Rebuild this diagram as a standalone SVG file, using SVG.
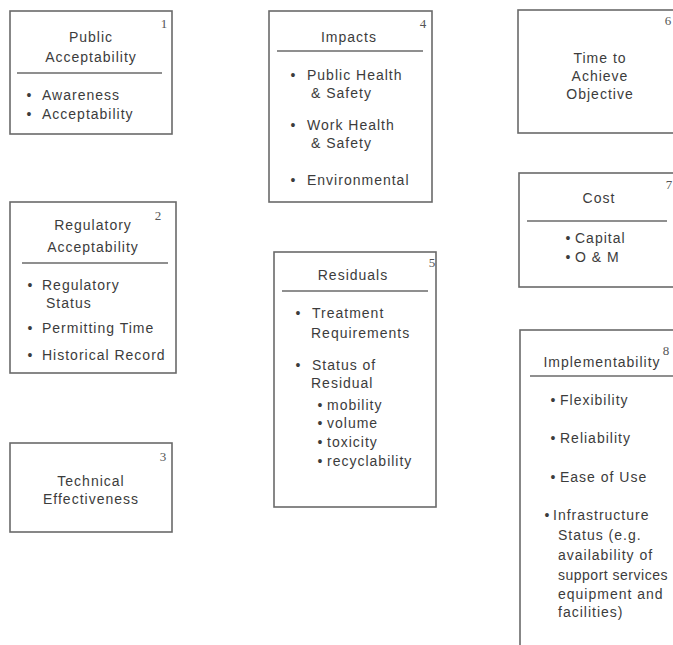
<svg xmlns="http://www.w3.org/2000/svg" width="673" height="645" viewBox="0 0 673 645">
<style>
text{font-family:"Liberation Sans",Arial,sans-serif;font-size:14px;fill:#3c3c3c;letter-spacing:1px}
.c{text-anchor:middle}
.b{text-anchor:middle;letter-spacing:0}
.n{font-family:"Liberation Serif","Times New Roman",serif;font-size:13px;fill:#555;letter-spacing:0;text-anchor:middle}
.box{fill:#fff;stroke:#6a6a6a;stroke-width:1.6}
.dv{stroke:#6a6a6a;stroke-width:1.4}
</style>
<rect width="673" height="645" fill="#fff"/>
<g id="n1">
<rect class="box" x="10" y="11" width="162" height="123"/>
<text class="n" x="164" y="28">1</text>
<text class="c" x="91" y="42">Public</text>
<text class="c" x="91" y="62">Acceptability</text>
<line class="dv" x1="17" y1="73" x2="162" y2="73"/>
<text class="b" x="29" y="100">•</text><text x="42" y="100">Awareness</text>
<text class="b" x="29" y="119">•</text><text x="42" y="119">Acceptability</text>
</g>
<g id="n2">
<rect class="box" x="10" y="202" width="166" height="171"/>
<text class="n" x="158" y="220">2</text>
<text class="c" x="93" y="230">Regulatory</text>
<text class="c" x="93" y="252">Acceptability</text>
<line class="dv" x1="22" y1="263" x2="168" y2="263"/>
<text class="b" x="30" y="290">•</text><text x="42" y="290">Regulatory</text>
<text x="46" y="308">Status</text>
<text class="b" x="30" y="333">•</text><text x="42" y="333">Permitting Time</text>
<text class="b" x="30" y="360">•</text><text x="42" y="360">Historical Record</text>
</g>
<g id="n3">
<rect class="box" x="10" y="443" width="162" height="89"/>
<text class="n" x="163" y="461">3</text>
<text class="c" x="91" y="486">Technical</text>
<text class="c" x="91" y="504">Effectiveness</text>
</g>
<g id="n4">
<rect class="box" x="269" y="11" width="163" height="191"/>
<text class="n" x="423" y="28">4</text>
<text class="c" x="349" y="42">Impacts</text>
<line class="dv" x1="277" y1="51" x2="423" y2="51"/>
<text class="b" x="293" y="80">•</text><text x="307" y="80">Public Health</text>
<text x="311" y="98">&amp; Safety</text>
<text class="b" x="293" y="130">•</text><text x="307" y="130">Work Health</text>
<text x="311" y="148">&amp; Safety</text>
<text class="b" x="293" y="185">•</text><text x="307" y="185">Environmental</text>
</g>
<g id="n5">
<rect class="box" x="274" y="252" width="162" height="255"/>
<text class="n" x="432" y="267">5</text>
<text class="c" x="353" y="280">Residuals</text>
<line class="dv" x1="282" y1="291" x2="428" y2="291"/>
<text class="b" x="298" y="318">•</text><text x="312" y="318">Treatment</text>
<text x="311" y="338">Requirements</text>
<text class="b" x="298" y="370">•</text><text x="312" y="370">Status of</text>
<text x="311" y="388">Residual</text>
<text class="b" x="320" y="410">•</text><text x="327" y="410">mobility</text>
<text class="b" x="320" y="428">•</text><text x="327" y="428">volume</text>
<text class="b" x="320" y="447">•</text><text x="327" y="447">toxicity</text>
<text class="b" x="320" y="466">•</text><text x="327" y="466">recyclability</text>
</g>
<g id="n6">
<rect class="box" x="518" y="10" width="170" height="123"/>
<text class="n" x="668" y="25">6</text>
<text class="c" x="600" y="63">Time to</text>
<text class="c" x="600" y="81">Achieve</text>
<text class="c" x="600" y="99">Objective</text>
</g>
<g id="n7">
<rect class="box" x="519" y="173" width="170" height="114"/>
<text class="n" x="669" y="189">7</text>
<text class="c" x="599" y="203">Cost</text>
<line class="dv" x1="527" y1="221" x2="667" y2="221"/>
<text class="b" x="568" y="243">•</text><text x="575" y="243">Capital</text>
<text class="b" x="568" y="262">•</text><text x="575" y="262">O &amp; M</text>
</g>
<g id="n8">
<rect class="box" x="520" y="330" width="170" height="330"/>
<text class="n" x="666" y="355">8</text>
<text class="c" x="602" y="367">Implementability</text>
<line class="dv" x1="530" y1="376" x2="673" y2="376"/>
<text class="b" x="553" y="405">•</text><text x="560" y="405">Flexibility</text>
<text class="b" x="553" y="443">•</text><text x="560" y="443">Reliability</text>
<text class="b" x="553" y="482">•</text><text x="560" y="482">Ease of Use</text>
<text class="b" x="547" y="520">•</text><text x="553" y="520">Infrastructure</text>
<text x="558" y="540">Status (e.g.</text>
<text x="558" y="560">availability of</text>
<text x="558" y="580" style="letter-spacing:0.5px">support services</text>
<text x="558" y="599">equipment and</text>
<text x="558" y="617">facilities)</text>
</g>
<g id="connectors"></g>
</svg>
